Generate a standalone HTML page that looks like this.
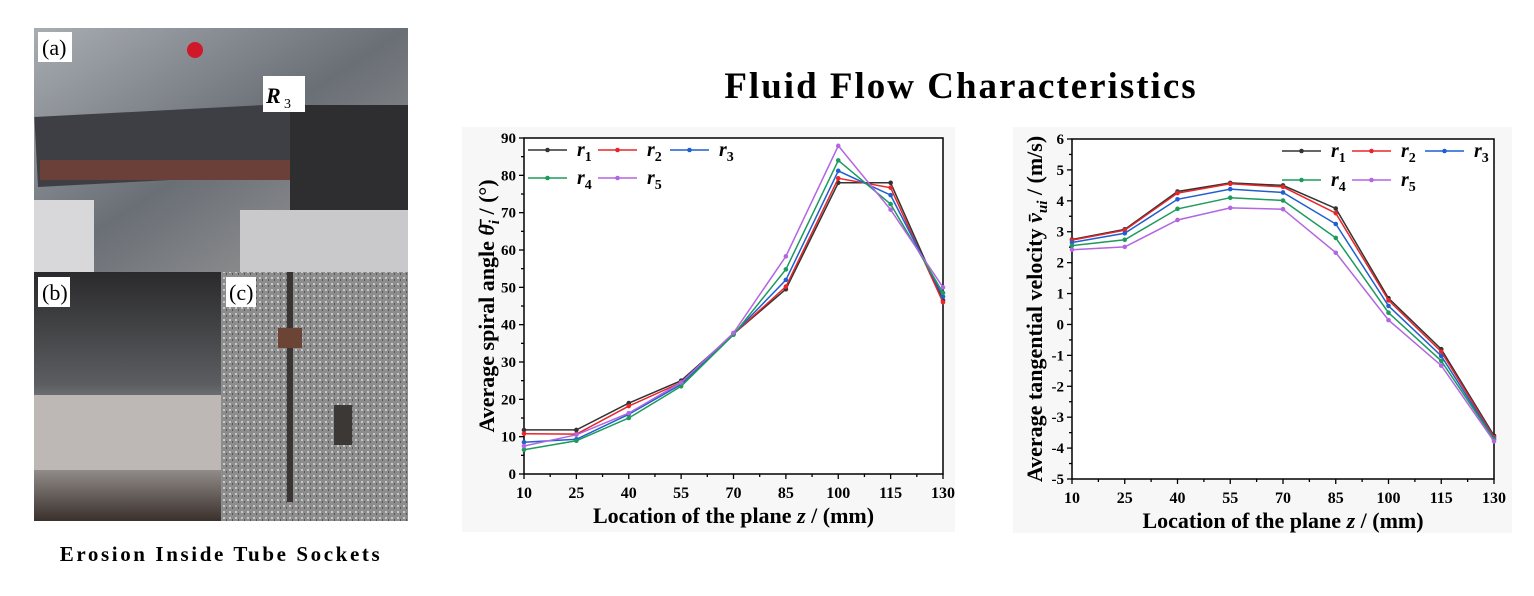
<!DOCTYPE html>
<html><head><meta charset="utf-8"><style>
html,body{margin:0;padding:0;background:#fff;}
body{width:1534px;height:591px;position:relative;overflow:hidden;font-family:"Liberation Serif",serif;}
</style></head><body>
<svg id="s" width="1534" height="591" xmlns="http://www.w3.org/2000/svg" font-family="Liberation Serif, serif">
<defs>
<linearGradient id="ga" x1="0" y1="0" x2="1" y2="1"><stop offset="0" stop-color="#a8adb2"/><stop offset="0.5" stop-color="#6a6f76"/><stop offset="1" stop-color="#a09e9c"/></linearGradient>
<linearGradient id="gb" x1="0" y1="0" x2="0" y2="1"><stop offset="0" stop-color="#2a2a2c"/><stop offset="0.45" stop-color="#5b5d60"/><stop offset="0.7" stop-color="#b9b6b4"/><stop offset="1" stop-color="#3a302c"/></linearGradient>
<pattern id="gr" width="6" height="6" patternUnits="userSpaceOnUse"><rect width="6" height="6" fill="#8d8d8d"/><rect x="1" y="1" width="2" height="2" fill="#c8c8c8"/><rect x="4" y="3" width="1" height="2" fill="#555"/></pattern>
</defs>
<rect x="34" y="28" width="374" height="244" fill="url(#ga)"/>
<rect x="36" y="110" width="270" height="70" fill="#3e3f45" transform="rotate(-3 170 145)"/>
<rect x="40" y="160" width="270" height="20" fill="#6b4038"/>
<rect x="290" y="105" width="118" height="110" fill="#2e2e30"/>
<rect x="34" y="200" width="60" height="72" fill="#d8d8da"/>
<rect x="240" y="210" width="168" height="62" fill="#c9c9cc"/>
<circle cx="195" cy="50" r="8" fill="#d0182a"/>
<rect x="38" y="32" width="34" height="30" fill="#fff"/>
<text x="42" y="55" font-size="22">(a)</text>
<rect x="263" y="76" width="42" height="36" fill="#fff"/>
<text x="266" y="103" font-size="22" font-style="italic" font-weight="bold">R</text><text x="284" y="108" font-size="14">3</text>
<rect x="34" y="272" width="187" height="249" fill="url(#gb)"/>
<rect x="34" y="395" width="187" height="75" fill="#bdb8b5"/>
<rect x="38" y="277" width="32" height="30" fill="#fff"/>
<text x="42" y="300" font-size="22">(b)</text>
<rect x="221" y="272" width="187" height="249" fill="url(#gr)"/>
<rect x="287" y="272" width="6" height="230" fill="#3a3533"/>
<rect x="278" y="328" width="24" height="20" fill="#6b4436"/>
<rect x="334" y="405" width="18" height="40" fill="#3c3836"/>
<rect x="226" y="277" width="30" height="30" fill="#fff"/>
<text x="229" y="300" font-size="22">(c)</text>
<text x="221" y="561" font-size="21" font-weight="bold" text-anchor="middle" letter-spacing="2.6">Erosion Inside Tube Sockets</text>
<text x="961" y="98" font-size="37" font-weight="bold" text-anchor="middle" letter-spacing="2">Fluid Flow Characteristics</text>
<rect x="462" y="127" width="493" height="405" fill="#f7f7f7"/>
<rect x="1013" y="127" width="499" height="406" fill="#f7f7f7"/>
<g id="g"></g>
</svg>
<script>
var g=document.getElementById('g'),h='';
var cols=['#333333','#e8262a','#1f5fd0','#1d9a5c','#b266e0'];
var xs=[10,25,40,55,70,85,100,115,130];
function chart(o){
 var X=function(x){return o.x0+(x-10)/120*(o.x1-o.x0)},Y=function(y){return o.y0-(y-o.ymin)/(o.ymax-o.ymin)*(o.y0-o.y1)};
 h+='<rect x="'+o.x0+'" y="'+o.y1+'" width="'+(o.x1-o.x0)+'" height="'+(o.y0-o.y1)+'" fill="#fff" stroke="#000" stroke-width="1.5"/>';
 for(var x=10;x<=130;x+=7.5){var px=X(x),big=(x-10)%15==0;h+='<line x1="'+px+'" x2="'+px+'" y1="'+o.y0+'" y2="'+(o.y0+(big?5:3))+'" stroke="#000" stroke-width="1.3"/>';if(big)h+='<text x="'+px+'" y="'+(o.y0+24)+'" font-size="16" font-weight="bold" text-anchor="middle">'+x+'</text>';}
 for(var y=o.ymin;y<=o.ymax+1e-6;y+=o.step/2){var py=Y(y),big=Math.abs(((y-o.ymin)/o.step)%1)<1e-6;h+='<line x1="'+o.x0+'" x2="'+(o.x0-(big?5:3))+'" y1="'+py+'" y2="'+py+'" stroke="#000" stroke-width="1.3"/>';if(big)h+='<text x="'+(o.x0-8)+'" y="'+(py+5)+'" font-size="15" font-weight="bold" text-anchor="end">'+y+'</text>';}
 o.d.forEach(function(s,i){var p=s.map(function(v,j){return X(xs[j]).toFixed(1)+','+Y(v).toFixed(1)}).join(' ');h+='<polyline points="'+p+'" fill="none" stroke="'+cols[i]+'" stroke-width="1.5"/>';s.forEach(function(v,j){h+='<circle cx="'+X(xs[j])+'" cy="'+Y(v)+'" r="2.3" fill="'+cols[i]+'"/>';});});
 o.leg.forEach(function(l,i){h+='<line x1="'+l[0]+'" x2="'+(l[0]+39)+'" y1="'+l[1]+'" y2="'+l[1]+'" stroke="'+cols[i]+'" stroke-width="1.5"/><circle cx="'+(l[0]+19.5)+'" cy="'+l[1]+'" r="2.3" fill="'+cols[i]+'"/><text x="'+(l[0]+49)+'" y="'+(l[1]+6)+'" font-size="20" font-weight="bold" font-style="italic">r<tspan font-size="14" font-style="normal" dy="5">'+(i+1)+'</tspan></text>';});
 h+='<text x="'+((o.x0+o.x1)/2)+'" y="'+o.xl+'" font-size="22" font-weight="bold" text-anchor="middle">Location of the plane <tspan font-style="italic">z</tspan> / (mm)</text>';
 h+='<text transform="translate('+o.yx+','+((o.y0+o.y1)/2)+') rotate(-90)" font-size="22" font-weight="bold" text-anchor="middle">'+o.yt+'</text>';
}
chart({x0:524,x1:943,y0:474,y1:138,ymin:0,ymax:90,step:10,xl:523,yx:494,
 yt:'Average spiral angle <tspan font-style="italic">θ̄</tspan><tspan font-style="italic" font-size="15" dy="5">i</tspan><tspan dy="-5"> / (°)</tspan>',
 d:[[11.8,11.8,19,25,37.5,49.5,78,78,46.5],[10.8,10.7,18.2,24.5,37.5,50.2,79.2,76.7,46],[8.5,9.3,16,24,37.5,52,81.2,74.7,47.5],[6.5,8.9,15,23.5,37.3,54.8,84,72.3,48.5],[7.5,10.5,16.3,24.5,37.8,58.3,87.9,70.8,50]],
 leg:[[528,150],[598,150],[670,150],[528,178],[598,178]]});
chart({x0:1072,x1:1494,y0:479,y1:139,ymin:-5,ymax:6,step:1,xl:528,yx:1042,
 yt:'Average tangential velocity <tspan font-style="italic">v̄</tspan><tspan font-style="italic" font-size="15" dy="5">ui</tspan><tspan dy="-5"> / (m/s)</tspan>',
 d:[[2.75,3.08,4.3,4.58,4.5,3.75,0.85,-0.8,-3.6],[2.73,3.05,4.25,4.55,4.45,3.6,0.78,-0.88,-3.65],[2.65,2.95,4.05,4.38,4.27,3.25,0.6,-1.02,-3.7],[2.55,2.74,3.74,4.1,4.01,2.8,0.38,-1.18,-3.72],[2.42,2.51,3.38,3.77,3.73,2.32,0.14,-1.33,-3.78]],
 leg:[[1282,151],[1352,151],[1425,151],[1282,180],[1352,180]]});
g.innerHTML=h;
</script>
</body></html>
